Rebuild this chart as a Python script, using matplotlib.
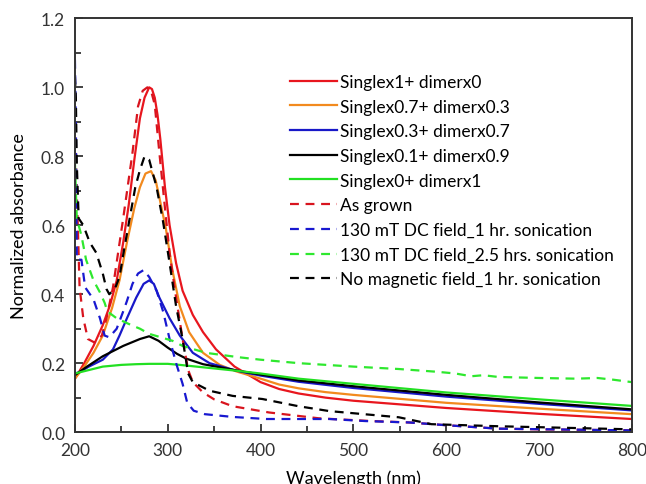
import numpy as np
import matplotlib
matplotlib.use('Agg')
import matplotlib.pyplot as plt
from matplotlib.ticker import MultipleLocator, FormatStrFormatter

plt.rcParams['font.family'] = ['Lato', 'DejaVu Sans']

# ---- data ----
wl_red = [200, 210, 220, 230, 238, 245, 252, 258, 264, 270, 275, 280, 283, 286, 289, 292, 297, 302, 309,
          316, 327, 338, 352, 372, 400, 420, 441, 470, 500, 600, 700, 800]
a_red = [0.155, 0.20, 0.25, 0.31, 0.37, 0.44, 0.55, 0.66, 0.79, 0.91, 0.97, 1.0, 0.995, 0.97, 0.92,
         0.85, 0.71, 0.60, 0.49, 0.41, 0.34, 0.29, 0.24, 0.19, 0.145, 0.125, 0.112, 0.10, 0.091, 0.07,
         0.053, 0.038]

wl_orange = [200, 210, 220, 230, 240, 248, 256, 264, 270, 276, 282, 287, 291, 298, 305, 313, 323, 338,
             356, 374, 400, 420, 441, 470, 500, 600, 700, 800]
a_orange = [0.155, 0.19, 0.23, 0.28, 0.36, 0.44, 0.55, 0.65, 0.71, 0.75, 0.757, 0.73, 0.68, 0.59, 0.47,
            0.365, 0.29, 0.23, 0.195, 0.176, 0.155, 0.138, 0.127, 0.116, 0.108, 0.085, 0.068, 0.052]

wl_blue = [200, 205, 215, 230, 241, 248, 256, 266, 274, 280, 285, 291, 302, 313, 327, 345, 374, 400,
           441, 500, 600, 700, 800]
a_blue = [0.17, 0.174, 0.19, 0.21, 0.24, 0.28, 0.33, 0.39, 0.43, 0.44, 0.43, 0.39, 0.33, 0.28, 0.23,
          0.20, 0.178, 0.164, 0.146, 0.128, 0.103, 0.082, 0.063]

wl_black = [200, 213, 230, 252, 270, 280, 290, 300, 310, 320, 338, 356, 374, 400, 441, 500, 600, 700, 800]
a_black = [0.165, 0.19, 0.22, 0.25, 0.27, 0.278, 0.265, 0.245, 0.227, 0.213, 0.197, 0.188, 0.179, 0.167,
           0.15, 0.133, 0.108, 0.086, 0.066]

wl_green = [200, 215, 230, 250, 266, 280, 300, 313, 338, 374, 400, 441, 500, 600, 700, 800]
a_green = [0.17, 0.18, 0.19, 0.195, 0.197, 0.198, 0.198, 0.195, 0.188, 0.178, 0.17, 0.155, 0.14, 0.115,
           0.095, 0.076]

wl_grown = [200, 202, 205, 209, 214, 221, 229, 234, 241, 252, 262, 268, 273, 278, 282, 286, 291, 297,
            302, 309, 316, 322, 327, 338, 350, 370, 409, 463, 520, 560, 600, 656, 700, 800]
a_grown = [0.90, 0.70, 0.42, 0.33, 0.27, 0.26, 0.28, 0.33, 0.42, 0.62, 0.81, 0.945, 0.99, 1.0, 0.99,
           0.95, 0.81, 0.65, 0.52, 0.39, 0.27, 0.18, 0.145, 0.115, 0.095, 0.075, 0.057, 0.04, 0.032,
           0.028, 0.02, 0.01, 0.008, 0.005]

wl_dc1 = [200, 201, 202, 207, 211, 220, 227, 232, 237, 245, 252, 256, 262, 268, 274, 280, 288, 295, 302,
          309, 316, 321, 328, 340, 370, 406, 474, 513, 560, 600, 656, 800]
a_dc1 = [1.08, 0.90, 0.50, 0.50, 0.42, 0.385, 0.33, 0.28, 0.275, 0.30, 0.35, 0.38, 0.43, 0.46, 0.47,
         0.45, 0.41, 0.35, 0.27, 0.20, 0.14, 0.085, 0.062, 0.052, 0.044, 0.038, 0.038, 0.032, 0.028,
         0.02, 0.01, 0.005]

wl_dc25 = [200, 201, 202, 207, 212, 220, 227, 232, 235, 245, 261, 270, 280, 305, 316, 341, 352, 377, 400,
           441, 500, 549, 590, 610, 627, 640, 656, 700, 740, 763, 780, 800]
a_dc25 = [0.78, 0.70, 0.62, 0.57, 0.50, 0.44, 0.405, 0.375, 0.35, 0.33, 0.31, 0.30, 0.285, 0.265, 0.25,
          0.23, 0.226, 0.217, 0.21, 0.20, 0.19, 0.183, 0.175, 0.17, 0.162, 0.165, 0.16, 0.157, 0.155,
          0.157, 0.152, 0.145]

wl_nofield = [200, 201, 202, 204, 209, 216, 223, 230, 234, 237, 243, 248, 253, 259, 265, 270, 275, 280,
              288, 295, 302, 309, 316, 322, 327, 345, 370, 402, 441, 474, 549, 584, 656, 800]
a_nofield = [1.03, 0.97, 0.78, 0.62, 0.60, 0.55, 0.52, 0.46, 0.415, 0.40, 0.415, 0.45, 0.53, 0.62, 0.71,
             0.76, 0.80, 0.79, 0.71, 0.61, 0.49, 0.365, 0.27, 0.17, 0.145, 0.12, 0.105, 0.096, 0.075,
             0.061, 0.043, 0.023, 0.017, 0.008]

fig = plt.figure(figsize=(6.46, 4.85), dpi=100)
ax = fig.add_axes([0.116, 0.107, 0.862, 0.853])

lw = 1.6
dash = (0, (4, 3))
ax.plot(wl_red, a_red, color='#e8161e', lw=lw, label='Singlex1+ dimerx0')
ax.plot(wl_orange, a_orange, color='#f28a1e', lw=lw, label='Singlex0.7+ dimerx0.3')
ax.plot(wl_blue, a_blue, color='#1818c8', lw=lw, label='Singlex0.3+ dimerx0.7')
ax.plot(wl_black, a_black, color='black', lw=lw, label='Singlex0.1+ dimerx0.9')
ax.plot(wl_green, a_green, color='#22e022', lw=lw, label='Singlex0+ dimerx1')
ax.plot(wl_grown, a_grown, color='#d8141e', lw=lw, ls=dash, label='As grown')
ax.plot(wl_dc1, a_dc1, color='#1818d0', lw=lw, ls=dash, label='130 mT DC field_1 hr. sonication')
ax.plot(wl_dc25, a_dc25, color='#2ee82e', lw=lw, ls=dash, label='130 mT DC field_2.5 hrs. sonication')
ax.plot(wl_nofield, a_nofield, color='black', lw=lw, ls=dash, label='No magnetic field_1 hr. sonication')

ax.set_xlim(200, 800)
ax.set_ylim(0, 1.2)
ax.xaxis.set_major_locator(MultipleLocator(100))
ax.xaxis.set_minor_locator(MultipleLocator(50))
ax.yaxis.set_major_locator(MultipleLocator(0.2))
ax.yaxis.set_minor_locator(MultipleLocator(0.1))
ax.yaxis.set_major_formatter(FormatStrFormatter('%.1f'))
ax.tick_params(which='both', direction='in', top=False, right=False, labelsize=12.5, colors='#333333')
ax.tick_params(which='major', length=6, width=1.3, pad=7)
ax.tick_params(which='minor', length=4, width=1.3)
for s in ax.spines.values():
    s.set_linewidth(1.4)
    s.set_color('#333333')

ax.set_xlabel('Wavelength (nm)', fontsize=13, labelpad=8)
ax.set_ylabel('Normalized absorbance', fontsize=13, labelpad=10)

ax.legend(loc='upper left', bbox_to_anchor=(0.386, 0.866), frameon=False, fontsize=12.5,
          handlelength=2.7, handletextpad=0.2, labelspacing=0.5, borderpad=0, borderaxespad=0)

fig.savefig('out.png', dpi=100)
